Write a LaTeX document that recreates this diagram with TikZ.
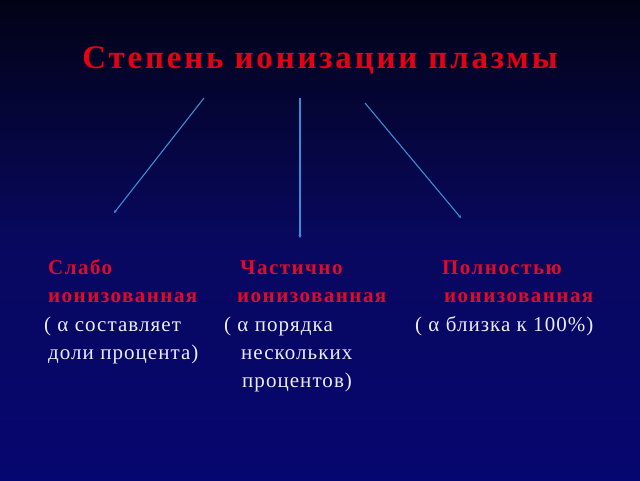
\documentclass[tikz,border=0pt]{standalone}
\usepackage{fontspec}
\setmainfont{Liberation Serif}
\newfontfamily\titlefont[LetterSpace=8.5]{Liberation Serif}
\newfontfamily\headfont[LetterSpace=7]{Liberation Serif}
\newfontfamily\bodyfont[LetterSpace=5]{Liberation Serif}
\usetikzlibrary{arrows.meta}
\definecolor{bgtop}{RGB}{2,2,22}
\definecolor{bgmid}{RGB}{8,8,95}
\definecolor{bgbot}{RGB}{6,6,112}
\definecolor{titlered}{RGB}{230,0,20}
\definecolor{labelred}{RGB}{225,10,40}
\definecolor{bodywhite}{RGB}{235,235,245}
\definecolor{arrowblue}{RGB}{60,140,210}
\begin{document}
\begin{tikzpicture}[x=1pt,y=-1pt,
  titletext/.style={font=\titlefont\fontsize{33}{38}\selectfont\bfseries, text=titlered, inner sep=0pt},
  headtext/.style={anchor=base west, font=\headfont\fontsize{21}{25}\selectfont\bfseries, text=labelred, inner sep=0pt},
  bodytext/.style={anchor=base west, font=\bodyfont\fontsize{21}{25}\selectfont, text=bodywhite, inner sep=0pt},
  link/.style={draw=arrowblue, line width=1.1pt, -{Stealth[length=3pt,width=3pt]}}]
\useasboundingbox (0,0) rectangle (640,480);
\shade[top color=bgtop, bottom color=bgmid] (0,0) rectangle (640,240);
\shade[top color=bgmid, bottom color=bgbot] (0,240) rectangle (640,480);

\node[titletext, anchor=base] (title) at (320,68) {Степень ионизации плазмы};

\coordinate (s1) at (204,98);
\coordinate (e1) at (114,213);
\coordinate (s2) at (300,98);
\coordinate (e2) at (300,238);
\coordinate (s3) at (365,103);
\coordinate (e3) at (461,218);
\draw[link] (s1) -- (e1);
\draw[link] (s2) -- (e2);
\draw[link] (s3) -- (e3);

% column 1
\node[headtext] (a1) at (48,274) {Слабо};
\node[headtext] (a2) at (48,302) {ионизованная};
\node[bodytext] (a3) at (44,331) {( α составляет};
\node[bodytext] (a4) at (48,359) {доли процента)};
% column 2
\node[headtext] (b1) at (240,274) {Частично};
\node[headtext] (b2) at (237,302) {ионизованная};
\node[bodytext] (b3) at (224,331) {( α порядка};
\node[bodytext] (b4) at (241,359) {нескольких};
\node[bodytext] (b5) at (242,387) {процентов)};
% column 3
\node[headtext] (c1) at (442,274) {Полностью};
\node[headtext] (c2) at (444,302) {ионизованная};
\node[bodytext] (c3) at (415,331) {( α близка к 100\%)};
\end{tikzpicture}
\end{document}
